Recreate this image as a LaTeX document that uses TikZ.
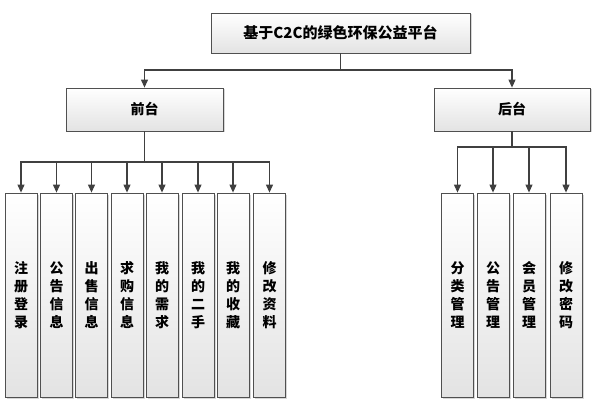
\documentclass[tikz,border=0pt]{standalone}
\usepackage{fontspec}
\newfontfamily\cjk{Noto Sans CJK SC}
\usepackage{xcolor}
\definecolor{edge}{RGB}{64,64,64}
\definecolor{frame}{RGB}{80,80,80}
\usepackage{tikz}
\usetikzlibrary{
    arrows.meta,
    positioning,
    shadows
}

\begin{document}
\begin{tikzpicture}[x=1pt, y=-1pt,
        box/.style={rectangle, draw=frame, line width=0.8pt, top color=white, bottom color=gray!22,
            drop shadow={shadow xshift=1.5pt, shadow yshift=-1.5pt, fill=gray!45, opacity=0.7},
            inner sep=0pt, font=\cjk\bfseries\fontsize{14}{18}\selectfont, text=black},
        leaf/.style={box, minimum width=32pt, minimum height=204pt, align=center},
        arrow/.style={-{Triangle[width=7pt,length=8pt]}, line width=1.1pt, color=edge}
    ]
        \useasboundingbox (0,0) rectangle (615,406);

        % top levels
        \node[box, minimum width=259pt, minimum height=40pt, font=\cjk\bfseries\fontsize{15}{18}\selectfont] (root) at (340.5,33) {基于C2C的绿色环保公益平台};
        \node[box, minimum width=157pt, minimum height=43pt] (front) at (144.5,109.5) {前台};
        \node[box, minimum width=156pt, minimum height=43pt] (back) at (512,109.5) {后台};

        % front leaves
        \node[leaf] (f1) at (21,295) {注\\册\\登\\录};
        \node[leaf] (f2) at (56.5,295) {公\\告\\信\\息};
        \node[leaf] (f3) at (91.5,295) {出\\售\\信\\息};
        \node[leaf] (f4) at (127,295) {求\\购\\信\\息};
        \node[leaf] (f5) at (162,295) {我\\的\\需\\求};
        \node[leaf] (f6) at (198,295) {我\\的\\二\\手};
        \node[leaf] (f7) at (233,295) {我\\的\\收\\藏};
        \node[leaf] (f8) at (269.5,295) {修\\改\\资\\料};

        % back leaves
        \node[leaf] (b1) at (457.5,295) {分\\类\\管\\理};
        \node[leaf] (b2) at (493,295) {公\\告\\管\\理};
        \node[leaf] (b3) at (529,295) {会\\员\\管\\理};
        \node[leaf] (b4) at (566,295) {修\\改\\密\\码};

        % bus points
        \coordinate (rbus) at (340.5,70);
        \coordinate (fbus) at (144.5,162);
        \coordinate (bbus) at (512,147);

        \draw[arrow] (root) |- (rbus) -| (front);
        \draw[arrow] (root) |- (rbus) -| (back);

        \draw[arrow] (front) |- (fbus) -| (f1);
        \draw[arrow] (front) |- (fbus) -| (f2);
        \draw[arrow] (front) |- (fbus) -| (f3);
        \draw[arrow] (front) |- (fbus) -| (f4);
        \draw[arrow] (front) |- (fbus) -| (f5);
        \draw[arrow] (front) |- (fbus) -| (f6);
        \draw[arrow] (front) |- (fbus) -| (f7);
        \draw[arrow] (front) |- (fbus) -| (f8);

        \draw[arrow] (back) |- (bbus) -| (b1);
        \draw[arrow] (back) |- (bbus) -| (b2);
        \draw[arrow] (back) |- (bbus) -| (b3);
        \draw[arrow] (back) |- (bbus) -| (b4);
    \end{tikzpicture}
\end{document}
